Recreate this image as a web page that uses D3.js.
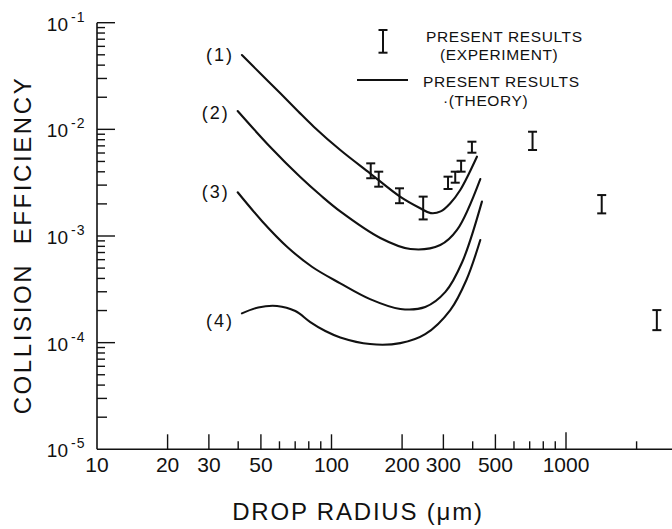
<!DOCTYPE html>
<html>
<head>
<meta charset="utf-8">
<script src="https://cdn.jsdelivr.net/npm/d3@7"></script>
<style>
  html, body { margin: 0; padding: 0; background: #fff; }
  svg { display: block; font-family: "Liberation Sans", Arial, sans-serif; }
</style>
</head>
<body>
<svg id="chart" width="672" height="529"></svg>
<script>
// Theory: collision efficiency vs drop radius (µm) for four cases
const curve1Radius = [41.5, 50, 60.5, 72, 84, 109, 146, 196, 239, 265, 292, 321, 354, 417];
const curve1Eff    = [0.0498, 0.033, 0.0218, 0.0148, 0.0106, 0.0064, 0.00387, 0.00234, 0.00182, 0.00164, 0.00170, 0.00203, 0.0027, 0.00554];

const curve2Radius = [39.8, 54.8, 73.6, 89.6, 109, 161.5, 217, 291, 343, 431];
const curve2Eff    = [0.01486, 0.00683, 0.00357, 0.00242, 0.0017, 0.000958, 0.000755, 0.000823, 0.00114, 0.00342];

const curve3Radius = [39.8, 50.7, 64.6, 82.8, 109, 146, 196.5, 251, 306, 361, 438];
const curve3Eff    = [0.00257, 0.00137, 0.000794, 0.000512, 0.00036, 0.000256, 0.000207, 0.000216, 0.000299, 0.00057, 0.0021];

const curve4Radius = [41.5, 48.7, 58.6, 70.1, 81.2, 94.1, 109, 146, 196.5, 251, 321, 376, 431];
const curve4Eff    = [1.88e-4, 2.14e-4, 2.21e-4, 1.98e-4, 1.56e-4, 1.285e-4, 1.12e-4, 9.7e-5, 9.9e-5, 1.2e-4, 2.02e-4, 3.87e-4, 9.17e-4];

const curveLabels = ["(1)", "(2)", "(3)", "(4)"];

// Experiment: error bars (radius, low, high)
const expRadius = [147, 159, 195, 246, 314, 337, 357, 397, 720, 1420, 2440];
const expLow    = [0.00348, 0.0029, 0.00203, 0.00143, 0.00276, 0.00316, 0.00401, 0.00604, 0.0064, 0.00163, 0.000131];
const expHigh   = [0.0048, 0.00401, 0.0028, 0.00234, 0.0036, 0.00401, 0.00508, 0.00766, 0.0095, 0.00242, 0.000202];

// Axis ticks
const xTicksMajor = [20, 30, 50, 100, 200, 300, 500, 1000];
const xTicksMinor = [40, 60, 70, 80, 90, 400, 600, 700, 800, 900, 2000];
const xTickLabels = [10, 20, 30, 50, 100, 200, 300, 500, 1000];
const yDecadeExponents = [-5, -4, -3, -2, -1];
const yMinorSteps = [2, 3, 4, 5, 6, 7, 8, 9];

const legendLabels = [["PRESENT RESULTS", "(EXPERIMENT)"], ["PRESENT RESULTS", "·(THEORY)"]];
const xTitle = "DROP RADIUS (\u03BCm)";
const yTitle = "COLLISION  EFFICIENCY";

const W = 672, H = 529;
const svg = d3.select("#chart");
const ink = "#111";

const x = d3.scaleLog().domain([10, 1000]).range([97, 566]);
const y = d3.scaleLog().domain([1e-5, 1e-1]).range([449.3, 22.7]);

// ----- axes -----
const xAxisG = svg.append("g").attr("transform", `translate(0,${y(1e-5)})`);
xAxisG.append("line")
  .attr("x1", x(10)).attr("x2", W)
  .attr("stroke", ink).attr("stroke-width", 1.6);
xAxisG.selectAll("line.maj").data(xTicksMajor).join("line")
  .attr("x1", d => x(d)).attr("x2", d => x(d))
  .attr("y1", 0).attr("y2", d => d === 1000 ? -17 : -15)
  .attr("stroke", ink).attr("stroke-width", 1.4);
xAxisG.selectAll("line.min").data(xTicksMinor).join("line")
  .attr("x1", d => x(d)).attr("x2", d => x(d))
  .attr("y1", 0).attr("y2", -8)
  .attr("stroke", ink).attr("stroke-width", 1.4);
xAxisG.selectAll("text").data(xTickLabels).join("text")
  .attr("x", d => x(d)).attr("y", 23)
  .attr("text-anchor", "middle")
  .attr("font-size", 21).attr("fill", ink)
  .text(d => d);

const yAxisG = svg.append("g").attr("transform", `translate(${x(10)},0)`);
yAxisG.append("line")
  .attr("y1", y(1e-5)).attr("y2", y(1e-1))
  .attr("stroke", ink).attr("stroke-width", 1.6);
const yMinor = [];
yDecadeExponents.slice(0, -1).forEach(e => yMinorSteps.forEach(k => yMinor.push({v: k * Math.pow(10, e), k})));
yAxisG.selectAll("line.min").data(yMinor).join("line")
  .attr("x1", 0).attr("x2", d => d.k <= 3 ? 10 : 8)
  .attr("y1", d => y(d.v)).attr("y2", d => y(d.v))
  .attr("stroke", ink).attr("stroke-width", 1.4);
yAxisG.selectAll("line.maj").data(yDecadeExponents.slice(1)).join("line")
  .attr("x1", 0).attr("x2", 18)
  .attr("y1", d => y(Math.pow(10, d))).attr("y2", d => y(Math.pow(10, d)))
  .attr("stroke", ink).attr("stroke-width", 1.4);

const yLab = svg.append("g").selectAll("text").data(yDecadeExponents).join("text")
  .attr("x", 68).attr("y", d => y(Math.pow(10, d)) + 8)
  .attr("text-anchor", "end").attr("font-size", 19).attr("fill", ink);
yLab.append("tspan").text("10");
yLab.append("tspan").attr("x", 71).attr("dy", -9).attr("font-size", 14)
  .attr("letter-spacing", 1).attr("text-anchor", "start").text(d => "-" + Math.abs(d));

// axis titles
svg.append("text")
  .attr("x", 358).attr("y", 520)
  .attr("text-anchor", "middle").attr("font-size", 24).attr("letter-spacing", 1.8)
  .attr("fill", ink).text(xTitle);
svg.append("text")
  .attr("transform", `translate(31,245) rotate(-90)`)
  .attr("text-anchor", "middle").attr("font-size", 24).attr("letter-spacing", 2.6)
  .attr("fill", ink).attr("xml:space", "preserve").text(yTitle);

// ----- theory curves -----
const curves = [
  [curve1Radius, curve1Eff],
  [curve2Radius, curve2Eff],
  [curve3Radius, curve3Eff],
  [curve4Radius, curve4Eff]
];
const line = d3.line()
  .x(d => x(d[0])).y(d => y(d[1]))
  .curve(d3.curveCatmullRom.alpha(0.5));
const labelDy = [6, 8, 6, 14];
curves.forEach(([rs, es], i) => {
  const pts = rs.map((r, j) => [r, es[j]]);
  svg.append("path").datum(pts)
    .attr("d", line)
    .attr("fill", "none").attr("stroke", ink).attr("stroke-width", 2.1)
    .attr("stroke-linejoin", "round").attr("stroke-linecap", "round");
  svg.append("text")
    .attr("x", x(rs[0]) - 8).attr("y", y(es[0]) + labelDy[i])
    .attr("text-anchor", "end").attr("font-size", 18).attr("letter-spacing", 2)
    .attr("fill", ink).text(curveLabels[i]);
});

// ----- experimental error bars -----
const capW = 4.5;
const bars = svg.append("g").attr("stroke", ink).attr("stroke-width", 2);
expRadius.forEach((r, i) => {
  const cx = x(r), y0 = y(expLow[i]), y1 = y(expHigh[i]);
  bars.append("line").attr("x1", cx).attr("x2", cx).attr("y1", y0).attr("y2", y1);
  bars.append("line").attr("x1", cx - capW).attr("x2", cx + capW).attr("y1", y0).attr("y2", y0);
  bars.append("line").attr("x1", cx - capW).attr("x2", cx + capW).attr("y1", y1).attr("y2", y1);
});

// ----- legend -----
const lg = svg.append("g");
const lgBar = lg.append("g").attr("stroke", ink).attr("stroke-width", 2);
lgBar.append("line").attr("x1", 383).attr("x2", 383).attr("y1", 30).attr("y2", 52.7);
lgBar.append("line").attr("x1", 378.5).attr("x2", 387.5).attr("y1", 30).attr("y2", 30);
lgBar.append("line").attr("x1", 378.5).attr("x2", 387.5).attr("y1", 52.7).attr("y2", 52.7);
lg.append("line").attr("x1", 357).attr("x2", 408).attr("y1", 80).attr("y2", 80)
  .attr("stroke", ink).attr("stroke-width", 2);
const lgText = [
  {t: legendLabels[0][0], x: 426, y: 42},
  {t: legendLabels[0][1], x: 440, y: 60},
  {t: legendLabels[1][0], x: 423, y: 87},
  {t: legendLabels[1][1], x: 443, y: 106}
];
lg.selectAll("text").data(lgText).join("text")
  .attr("x", d => d.x).attr("y", d => d.y)
  .attr("font-size", 15.5).attr("letter-spacing", 0.6).attr("fill", ink)
  .text(d => d.t);
</script>
</body>
</html>
